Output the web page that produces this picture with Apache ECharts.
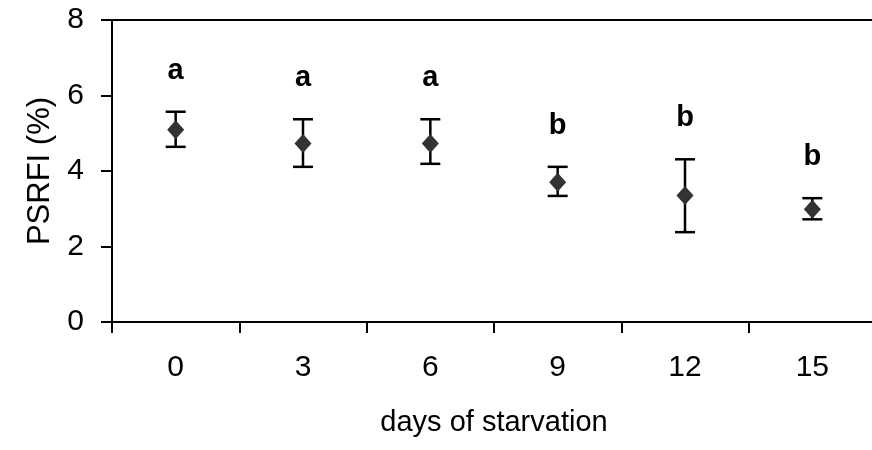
<!DOCTYPE html>
<html>
<head>
<meta charset="utf-8">
<script src="https://cdn.jsdelivr.net/npm/echarts@6/dist/echarts.min.js"></script>
<style>html,body{margin:0;padding:0;background:#fff;overflow:hidden}#c{width:872px;height:450px}</style>
</head>
<body>
<div id="c"></div>
<script>
var days = ['0', '3', '6', '9', '12', '15'];
var means = [5.09, 4.73, 4.73, 3.70, 3.35, 2.99];
var upper = [5.57, 5.37, 5.37, 4.11, 4.31, 3.28];
var lower = [4.64, 4.11, 4.19, 3.34, 2.38, 2.72];
var groups = ['a', 'a', 'a', 'b', 'b', 'b'];
var yTicks = [0, 2, 4, 6, 8];

var FONT = '"Liberation Sans", Arial, sans-serif';
var chart = echarts.init(document.getElementById('c'));
var errData = days.map(function (d, i) { return [i, lower[i], upper[i], groups[i]]; });

chart.setOption({
  animation: false,
  backgroundColor: '#fff',
  grid: { left: 112, width: 764, top: 20, height: 302, show: false, containLabel: false, outerBoundsMode: 'none' },
  xAxis: [{
    type: 'category', data: days, boundaryGap: true,
    name: 'days of starvation', nameLocation: 'middle', nameGap: 86,
    nameTextStyle: { fontFamily: FONT, fontSize: 29, color: '#000' },
    axisLine: { lineStyle: { color: '#000', width: 2 } },
    axisTick: { show: true, length: 11, lineStyle: { color: '#000', width: 2 }, alignWithLabel: false },
    axisLabel: { fontFamily: FONT, fontSize: 30, color: '#000', margin: 31 },
    splitLine: { show: false }
  }, {
    type: 'category', data: days, position: 'top',
    axisLine: { show: true, lineStyle: { color: '#000', width: 2 } },
    axisTick: { show: false }, axisLabel: { show: false }, splitLine: { show: false }
  }],
  yAxis: {
    type: 'value', min: yTicks[0], max: yTicks[yTicks.length - 1], interval: 2,
    name: 'PSRFI (%)', nameLocation: 'middle', nameGap: 55, nameRotate: 90,
    nameTextStyle: { fontFamily: FONT, fontSize: 31, color: '#000' },
    axisLine: { show: true, lineStyle: { color: '#000', width: 2 } },
    axisTick: { show: true, length: 11, inside: false, lineStyle: { color: '#000', width: 2 } },
    axisLabel: { fontFamily: FONT, fontSize: 30, color: '#000', margin: 28 },
    splitLine: { show: false }
  },
  series: [
    {
      type: 'custom',
      data: errData,
      z: 2,
      renderItem: function (params, api) {
        var x = api.coord([api.value(0), 0])[0];
        var lo = api.coord([api.value(0), api.value(1)])[1];
        var hi = api.coord([api.value(0), api.value(2)])[1];
        var hw = 10;
        var st = { stroke: '#000', lineWidth: 2.5 };
        return {
          type: 'group',
          children: [
            { type: 'line', shape: { x1: x, y1: hi, x2: x, y2: lo }, style: st },
            { type: 'line', shape: { x1: x - hw, y1: hi, x2: x + hw, y2: hi }, style: st },
            { type: 'line', shape: { x1: x - hw, y1: lo, x2: x + hw, y2: lo }, style: st },
            { type: 'text', style: { text: api.value(3), x: x, y: hi - 41, align: 'center', verticalAlign: 'middle', fill: '#000', font: 'bold 29px ' + FONT } }
          ]
        };
      }
    },
    {
      type: 'scatter',
      data: means,
      z: 3,
      symbol: 'diamond',
      symbolSize: [17, 19],
      itemStyle: { color: '#333333', opacity: 1 }
    }
  ]
});
</script>
</body>
</html>
